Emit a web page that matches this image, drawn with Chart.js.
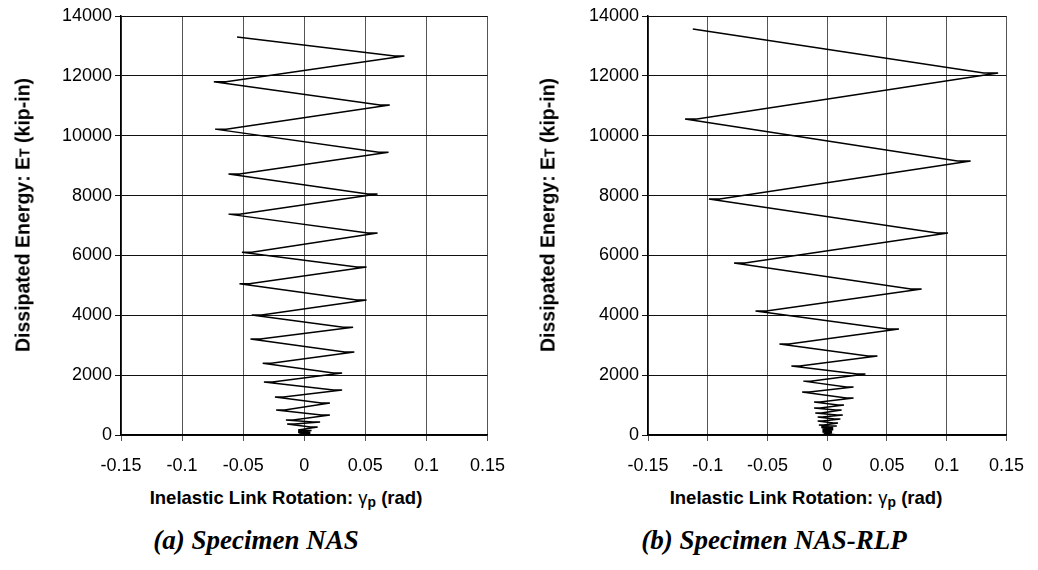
<!DOCTYPE html>
<html>
<head>
<meta charset="utf-8">
<script src="https://cdn.jsdelivr.net/npm/chart.js@4.4.0/dist/chart.umd.min.js"></script>
<style>
    body { margin: 0; background: #fff; width: 1038px; height: 570px; overflow: hidden; position: relative; }
    canvas { position: absolute; top: 0; }
    .lbl { position: absolute; font-family: "Liberation Sans", Arial, sans-serif; font-weight: bold;
           font-size: 18.5px; color: #000; white-space: nowrap; transform: translate(-50%, -50%); }
    .ytitle { font-size: 19.5px; transform: translate(-50%, -50%) rotate(-90deg); }
    .cap { position: absolute; font-family: "Liberation Serif", "Times New Roman", serif; font-weight: bold;
           font-style: italic; font-size: 27px; color: #000; white-space: nowrap; transform: translate(-50%, -50%); }
    .sm { font-size: 0.72em; }
    sub { font-size: 0.75em; vertical-align: -0.2em; line-height: 0; }
</style>
</head>
<body>
<canvas id="chartNAS" width="519" height="480" style="left:0"></canvas>
<canvas id="chartRLP" width="519" height="480" style="left:519px"></canvas>

<div class="lbl ytitle" style="left:23px; top:215px">Dissipated Energy: E<span class="sm">T</span> (kip-in)</div>
<div class="lbl ytitle" style="left:548px; top:215px">Dissipated Energy: E<span class="sm">T</span> (kip-in)</div>
<div class="lbl" style="left:286px; top:498px">Inelastic Link Rotation: <span style="font-weight:normal">γ</span><sub>p</sub> (rad)</div>
<div class="lbl" style="left:806px; top:498px">Inelastic Link Rotation: <span style="font-weight:normal">γ</span><sub>p</sub> (rad)</div>
<div class="cap" style="left:256px; top:540px">(a) Specimen NAS</div>
<div class="cap" style="left:774px; top:540px">(b) Specimen NAS-RLP</div>

<script>
// axis ticks
const xTicks = [-0.15, -0.1, -0.05, 0, 0.05, 0.1, 0.15];
const xTickLabels = ['-0.15', '-0.1', '-0.05', '0', '0.05', '0.1', '0.15'];
const yTicks = [0, 2000, 4000, 6000, 8000, 10000, 12000, 14000];
const yTickLabels = ['0', '2000', '4000', '6000', '8000', '10000', '12000', '14000'];

// (a) Specimen NAS - rotation (rad) and cumulative energy (kip-in)
const nasGamma = [
    0, 0.004, -0.004, 0.005, -0.005, 0.005, -0.005, 0.006, -0.005,
    0.011, 0.005, -0.014, -0.008, 0.013, 0.007, -0.015, -0.009,
    0.021, 0.014, -0.023, -0.016, 0.021, 0.014, -0.024, -0.017,
    0.031, 0.024, -0.033, -0.026, 0.031, 0.024, -0.034, -0.027,
    0.041, 0.033, -0.044, -0.036, 0.040, 0.032, -0.043, -0.035,
    0.051, 0.043, -0.053, -0.045, 0.051, 0.043, -0.051, -0.043,
    0.060, 0.052, -0.062, -0.053, 0.060, 0.052, -0.062, -0.053,
    0.069, 0.061, -0.073, -0.064, 0.070, 0.062, -0.074, -0.064,
    0.082, 0.074, -0.055
];
const nasEnergy = [
    0, 20, 40, 60, 85, 105, 125, 150, 170,
    270, 270, 370, 370, 435, 435, 500, 500,
    670, 670, 835, 835, 1070, 1070, 1270, 1270,
    1500, 1500, 1770, 1770, 2070, 2070, 2400, 2400,
    2770, 2770, 3210, 3210, 3600, 3600, 4010, 4010,
    4510, 4510, 5050, 5050, 5610, 5610, 6110, 6110,
    6750, 6750, 7380, 7380, 8050, 8050, 8720, 8720,
    9450, 9450, 10220, 10220, 11030, 11030, 11800, 11800,
    12660, 12660, 13300
];

// (b) Specimen NAS-RLP
const rlpGamma = [
    0, 0.003, -0.003, 0.004, -0.004, 0.004, -0.004, 0.005, -0.004, 0.005, -0.005, 0.005, -0.005,
    0.008, 0.004, -0.007, -0.003, 0.009, 0.005, -0.008, -0.004, 0.011, 0.006, -0.008, -0.004,
    0.013, 0.008, -0.010, -0.005, 0.012, 0.007, -0.011, -0.006, 0.014, 0.009, -0.011, -0.006,
    0.022, 0.016, -0.021, -0.015, 0.022, 0.016, -0.020, -0.014,
    0.032, 0.025, -0.030, -0.023, 0.042, 0.034, -0.040, -0.032,
    0.060, 0.051, -0.060, -0.051, 0.079, 0.070, -0.078, -0.069,
    0.101, 0.092, -0.099, -0.090, 0.120, 0.109, -0.119, -0.109,
    0.143, 0.131, -0.1125
];
const rlpEnergy = [
    0, 25, 50, 75, 100, 125, 150, 175, 200, 225, 250, 270, 290,
    300, 300, 335, 335, 400, 400, 470, 470, 535, 535, 600, 600,
    670, 670, 735, 735, 835, 835, 900, 900, 1000, 1000, 1100, 1100,
    1240, 1240, 1440, 1440, 1600, 1600, 1800, 1800,
    2040, 2040, 2305, 2305, 2640, 2640, 3040, 3040,
    3540, 3540, 4140, 4140, 4880, 4880, 5750, 5750,
    6750, 6750, 7885, 7885, 9155, 9155, 10560, 10560,
    12095, 12095, 13565
];

const tickFont = { family: '"Liberation Sans", Arial, sans-serif', size: 18 };

function makeChart(id, gamma, energy, axisWidth, padRight) {
    const points = gamma.map((g, i) => ({ x: g, y: energy[i] }));
    return new Chart(document.getElementById(id), {
        type: 'scatter',
        data: {
            datasets: [{
                data: points,
                showLine: true,
                borderColor: '#000',
                borderWidth: 1.5,
                pointRadius: 0,
                tension: 0
            }]
        },
        options: {
            responsive: false,
            animation: false,
            devicePixelRatio: 1,
            layout: { padding: { left: 0, right: padRight, top: 16, bottom: 0 } },
            plugins: { legend: { display: false }, tooltip: { enabled: false } },
            scales: {
                x: {
                    type: 'linear',
                    min: -0.15,
                    max: 0.15,
                    afterBuildTicks: axis => { axis.ticks = xTicks.map(v => ({ value: v })); },
                    afterFit: scale => { scale.height = 45; },
                    ticks: {
                        callback: (v, i) => xTickLabels[i],
                        font: tickFont,
                        color: '#000',
                        padding: 14,
                        maxRotation: 0,
                        autoSkip: false
                    },
                    grid: { color: '#555', lineWidth: 1, tickLength: 6 },
                    border: { color: '#000', width: 1.5 }
                },
                y: {
                    type: 'linear',
                    min: 0,
                    max: 14000,
                    afterBuildTicks: axis => { axis.ticks = yTicks.map(v => ({ value: v })); },
                    afterFit: scale => { scale.width = axisWidth; },
                    ticks: {
                        callback: (v, i) => yTickLabels[i],
                        font: tickFont,
                        color: '#000',
                        padding: 3,
                        autoSkip: false
                    },
                    grid: { color: '#111', lineWidth: 1, tickLength: 6 },
                    border: { color: '#000', width: 1.5 }
                }
            }
        }
    });
}

makeChart('chartNAS', nasGamma, nasEnergy, 121, 31);
makeChart('chartRLP', rlpGamma, rlpEnergy, 129, 22);
</script>
</body>
</html>
